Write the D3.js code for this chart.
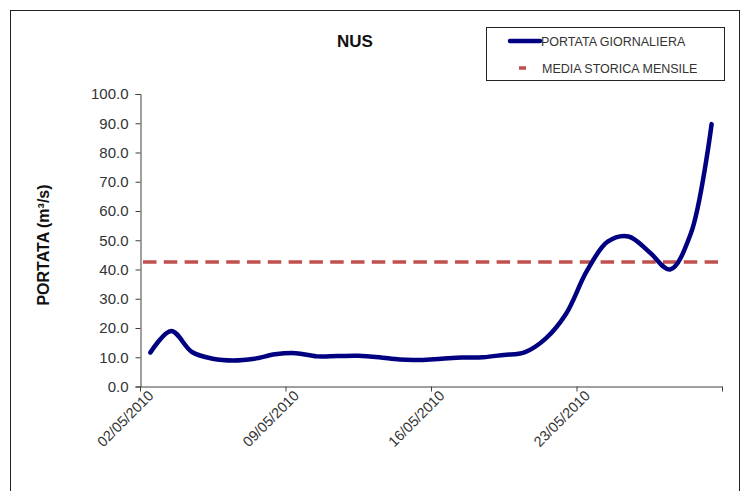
<!DOCTYPE html>
<html>
<head>
<meta charset="utf-8">
<script src="https://cdn.jsdelivr.net/npm/d3@7"></script>
<style>
  html, body { margin: 0; padding: 0; background: #fff; }
  svg { display: block; font-family: "Liberation Sans", Arial, sans-serif; }
</style>
</head>
<body>
<svg id="chart" width="746" height="491"></svg>
<script>
// ---- data ----
const title = "NUS";
const yAxisTitle = "PORTATA (m³/s)";
const seriesNames = ["PORTATA GIORNALIERA", "MEDIA STORICA MENSILE"];
const dates = ["02/05/2010","03/05/2010","04/05/2010","05/05/2010","06/05/2010","07/05/2010","08/05/2010",
               "09/05/2010","10/05/2010","11/05/2010","12/05/2010","13/05/2010","14/05/2010","15/05/2010",
               "16/05/2010","17/05/2010","18/05/2010","19/05/2010","20/05/2010","21/05/2010","22/05/2010",
               "23/05/2010","24/05/2010","25/05/2010","26/05/2010","27/05/2010","28/05/2010","29/05/2010"];
const portata = [11.6, 19.0, 11.8, 9.5, 8.9, 9.5, 11.0,
                 11.4, 10.3, 10.4, 10.5, 10.0, 9.2, 9.1,
                 9.5, 9.9, 10.0, 10.8, 11.7, 16.3, 24.9,
                 39.5, 49.5, 51.3, 46.0, 40.0, 52.3, 89.7];
const mediaStorica = 42.6;
const xTickDates = ["02/05/2010","09/05/2010","16/05/2010","23/05/2010","30/05/2010"];
const xTickLabels = ["02/05/2010","09/05/2010","16/05/2010","23/05/2010",""];
const yTicks = [0,10,20,30,40,50,60,70,80,90,100];

// ---- drawing ----
const svg = d3.select("#chart");
const parse = d3.timeParse("%d/%m/%Y");
const axisColor = "#404040";
const textColor = "#333333";

// outer frame
svg.append("rect").attr("x", 10.5).attr("y", 10.5).attr("width", 729).attr("height", 520)
  .attr("fill", "none").attr("stroke", "#222").attr("stroke-width", 1);

const x = d3.scaleTime()
  .domain([parse("02/05/2010"), parse("30/05/2010")])
  .range([140, 722]);
const y = d3.scaleLinear().domain([0, 100]).range([386.5, 94]);

const pts = dates.map((d, i) => ({ t: d3.timeHour.offset(parse(d), 12), v: portata[i] }));

// y axis
const yAxis = d3.axisLeft(y).tickValues(yTicks).tickFormat(d3.format(".1f")).tickSize(5).tickPadding(7);
const gy = svg.append("g").attr("transform", "translate(140.5,0)").call(yAxis);
gy.select(".domain").attr("stroke", axisColor);
gy.selectAll(".tick line").attr("stroke", axisColor);
gy.selectAll(".tick text").attr("fill", textColor).style("font-size", "15px");

// x axis
const xAxis = d3.axisBottom(x).tickValues(xTickDates.map(parse))
  .tickFormat((d, i) => xTickLabels[i]).tickSize(5).tickSizeOuter(0);
const gx = svg.append("g").attr("transform", "translate(0,386.5)").call(xAxis);
gx.select(".domain").attr("stroke", axisColor);
gx.selectAll(".tick line").attr("stroke", axisColor);
gx.selectAll(".tick text")
  .attr("fill", textColor).style("font-size", "14.5px")
  .attr("text-anchor", "end")
  .attr("transform", "translate(14,10) rotate(-45)")
  .attr("x", 0).attr("y", 0).attr("dy", "0");

// mean line (dashed)
svg.append("line")
  .attr("x1", x(parse("02/05/2010")) + 3).attr("x2", x(parse("30/05/2010")) - 4)
  .attr("y1", y(mediaStorica)).attr("y2", y(mediaStorica))
  .attr("stroke", "#C0504D").attr("stroke-width", 3.5).attr("stroke-dasharray", "13.5,7.3");

// daily flow line
const line = d3.line().x(d => x(d.t)).y(d => y(d.v)).curve(d3.curveCatmullRom.alpha(0.5));
svg.append("path").datum(pts).attr("d", line)
  .attr("fill", "none").attr("stroke", "#000080").attr("stroke-width", 4.5)
  .attr("stroke-linecap", "round").attr("stroke-linejoin", "round");

// title
svg.append("text").attr("x", 355).attr("y", 47).attr("text-anchor", "middle")
  .style("font-size", "17px").style("font-weight", "bold").attr("fill", "#111").text(title);

// y axis title
svg.append("text").attr("transform", "translate(49,245) rotate(-90)").attr("text-anchor", "middle")
  .style("font-size", "16px").style("font-weight", "bold").attr("fill", "#111").text(yAxisTitle);

// legend
const lg = svg.append("g");
lg.append("rect").attr("x", 486.5).attr("y", 27.5).attr("width", 238).attr("height", 53)
  .attr("fill", "#fff").attr("stroke", "#222");
lg.append("line").attr("x1", 510).attr("x2", 540).attr("y1", 41).attr("y2", 41)
  .attr("stroke", "#000080").attr("stroke-width", 4.5).attr("stroke-linecap", "round");
lg.append("text").attr("x", 541).attr("y", 46).style("font-size", "12.5px").attr("fill", textColor).text(seriesNames[0]);
lg.append("line").attr("x1", 519).attr("x2", 526).attr("y1", 68).attr("y2", 68)
  .attr("stroke", "#C0504D").attr("stroke-width", 3.5);
lg.append("text").attr("x", 542).attr("y", 73).style("font-size", "12.5px").attr("fill", textColor).text(seriesNames[1]);
</script>
</body>
</html>
